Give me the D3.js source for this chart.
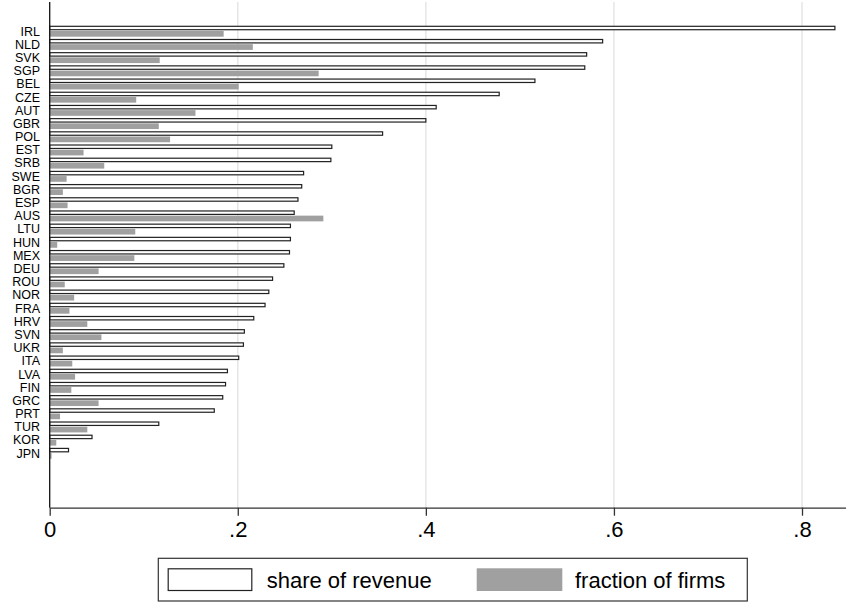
<!DOCTYPE html>
<html>
<head>
<meta charset="utf-8">
<script src="https://cdn.jsdelivr.net/npm/d3@7"></script>
<style>
  html, body { margin: 0; padding: 0; background: #fff; }
  svg { display: block; }
  text { font-family: "Liberation Sans", Arial, Helvetica, sans-serif; fill: #000; }
</style>
</head>
<body>
<svg id="chart" width="846" height="603"></svg>
<script>
// Countries, ordered by share of revenue
const countries = ["IRL","NLD","SVK","SGP","BEL","CZE","AUT","GBR","POL","EST","SRB",
  "SWE","BGR","ESP","AUS","LTU","HUN","MEX","DEU","ROU","NOR","FRA","HRV","SVN",
  "UKR","ITA","LVA","FIN","GRC","PRT","TUR","KOR","JPN"];

// Share of revenue
const shareRevenue = [0.835,0.588,0.571,0.569,0.516,0.478,0.411,0.400,0.354,0.300,0.299,
  0.270,0.268,0.264,0.260,0.256,0.256,0.255,0.249,0.237,0.233,0.229,0.217,0.207,
  0.206,0.201,0.189,0.187,0.184,0.175,0.116,0.045,0.020];

// Fraction of firms
const fractionFirms = [0.185,0.216,0.117,0.286,0.201,0.092,0.155,0.116,0.128,0.036,0.058,
  0.018,0.014,0.019,0.291,0.091,0.008,0.090,0.052,0.016,0.026,0.021,0.040,0.055,
  0.014,0.024,0.027,0.023,0.052,0.011,0.040,0.007,0.002];

const xTicks = [0, 0.2, 0.4, 0.6, 0.8];
const legendLabels = ["share of revenue", "fraction of firms"];

const svg = d3.select("#chart");
const W = 846;
const plotLeft = 49.7, plotTop = 2, plotBottom = 507.7;

// 0 .. 0.8 maps to 49.7 .. 802; the axis runs on to the right edge
const unit = (802 - plotLeft) / 0.8;
const x = d3.scaleLinear().domain([0, (W - plotLeft) / unit]).range([plotLeft, W]);

const y = d3.scaleBand()
  .domain(countries)
  .range([31.2 - 13.19 / 2, 453.3 + 13.19 / 2])
  .paddingInner(0.166)
  .paddingOuter(0.083);

// Vertical gridlines
svg.append("g")
  .selectAll("line")
  .data(xTicks.filter(d => d > 0))
  .join("line")
  .attr("x1", d => x(d)).attr("x2", d => x(d))
  .attr("y1", plotTop).attr("y2", plotBottom)
  .attr("stroke", "#e6e6e6")
  .attr("stroke-width", 1.5);

const bw = y.bandwidth();

// Fraction of firms bars (filled grey, lower half of each group)
svg.append("g")
  .selectAll("rect")
  .data(countries)
  .join("rect")
  .attr("x", x(0))
  .attr("y", d => y(d) + bw * 0.48)
  .attr("width", (d, i) => x(fractionFirms[i]) - x(0))
  .attr("height", bw * 0.52)
  .attr("fill", "#a0a0a0");

// Share of revenue bars (white with outline, upper half of each group)
svg.append("g")
  .selectAll("rect")
  .data(countries)
  .join("rect")
  .attr("x", x(0))
  .attr("y", d => y(d) + 0.6)
  .attr("width", (d, i) => x(shareRevenue[i]) - x(0))
  .attr("height", bw * 0.42 - 1.2)
  .attr("fill", "#fff")
  .attr("stroke", "#222")
  .attr("stroke-width", 1.2);

// Country labels
svg.append("g")
  .selectAll("text")
  .data(countries)
  .join("text")
  .attr("x", 40)
  .attr("y", d => y(d) + bw / 2)
  .attr("dy", "0.35em")
  .attr("text-anchor", "end")
  .attr("font-size", 12.5)
  .text(d => d);

// Y axis line
svg.append("line")
  .attr("x1", plotLeft).attr("x2", plotLeft)
  .attr("y1", plotTop).attr("y2", plotBottom)
  .attr("stroke", "#111")
  .attr("stroke-width", 1.3);

// X axis
const fmt = d => d === 0 ? "0" : d3.format(".1f")(d).replace(/^0/, "");
const xAxis = svg.append("g")
  .attr("transform", `translate(0,${plotBottom})`)
  .call(d3.axisBottom(x).tickValues(xTicks).tickFormat(fmt).tickSize(8).tickPadding(6).tickSizeOuter(0));
xAxis.select(".domain").attr("stroke", "#333").attr("stroke-width", 1.3);
xAxis.selectAll(".tick line").attr("stroke", "#333").attr("stroke-width", 1.3);
xAxis.selectAll(".tick text")
  .attr("font-size", 22)
  .attr("font-family", "'Liberation Sans', Arial, sans-serif")
  .attr("fill", "#000");

// Legend
const lg = svg.append("g");
lg.append("rect")
  .attr("x", 158.3).attr("y", 558.3)
  .attr("width", 747.3 - 158.3).attr("height", 601 - 558.3)
  .attr("fill", "#fff").attr("stroke", "#333").attr("stroke-width", 1.2);
lg.append("rect")
  .attr("x", 168.2).attr("y", 568.8)
  .attr("width", 83.6).attr("height", 21.7)
  .attr("fill", "#fff").attr("stroke", "#222").attr("stroke-width", 1.2);
lg.append("text")
  .attr("x", 266.7).attr("y", 588.3)
  .attr("font-size", 22)
  .text(legendLabels[0]);
lg.append("rect")
  .attr("x", 476.7).attr("y", 568.3)
  .attr("width", 85.6).attr("height", 22.7)
  .attr("fill", "#a0a0a0");
lg.append("text")
  .attr("x", 575).attr("y", 588.3)
  .attr("font-size", 22)
  .text(legendLabels[1]);
</script>
</body>
</html>
